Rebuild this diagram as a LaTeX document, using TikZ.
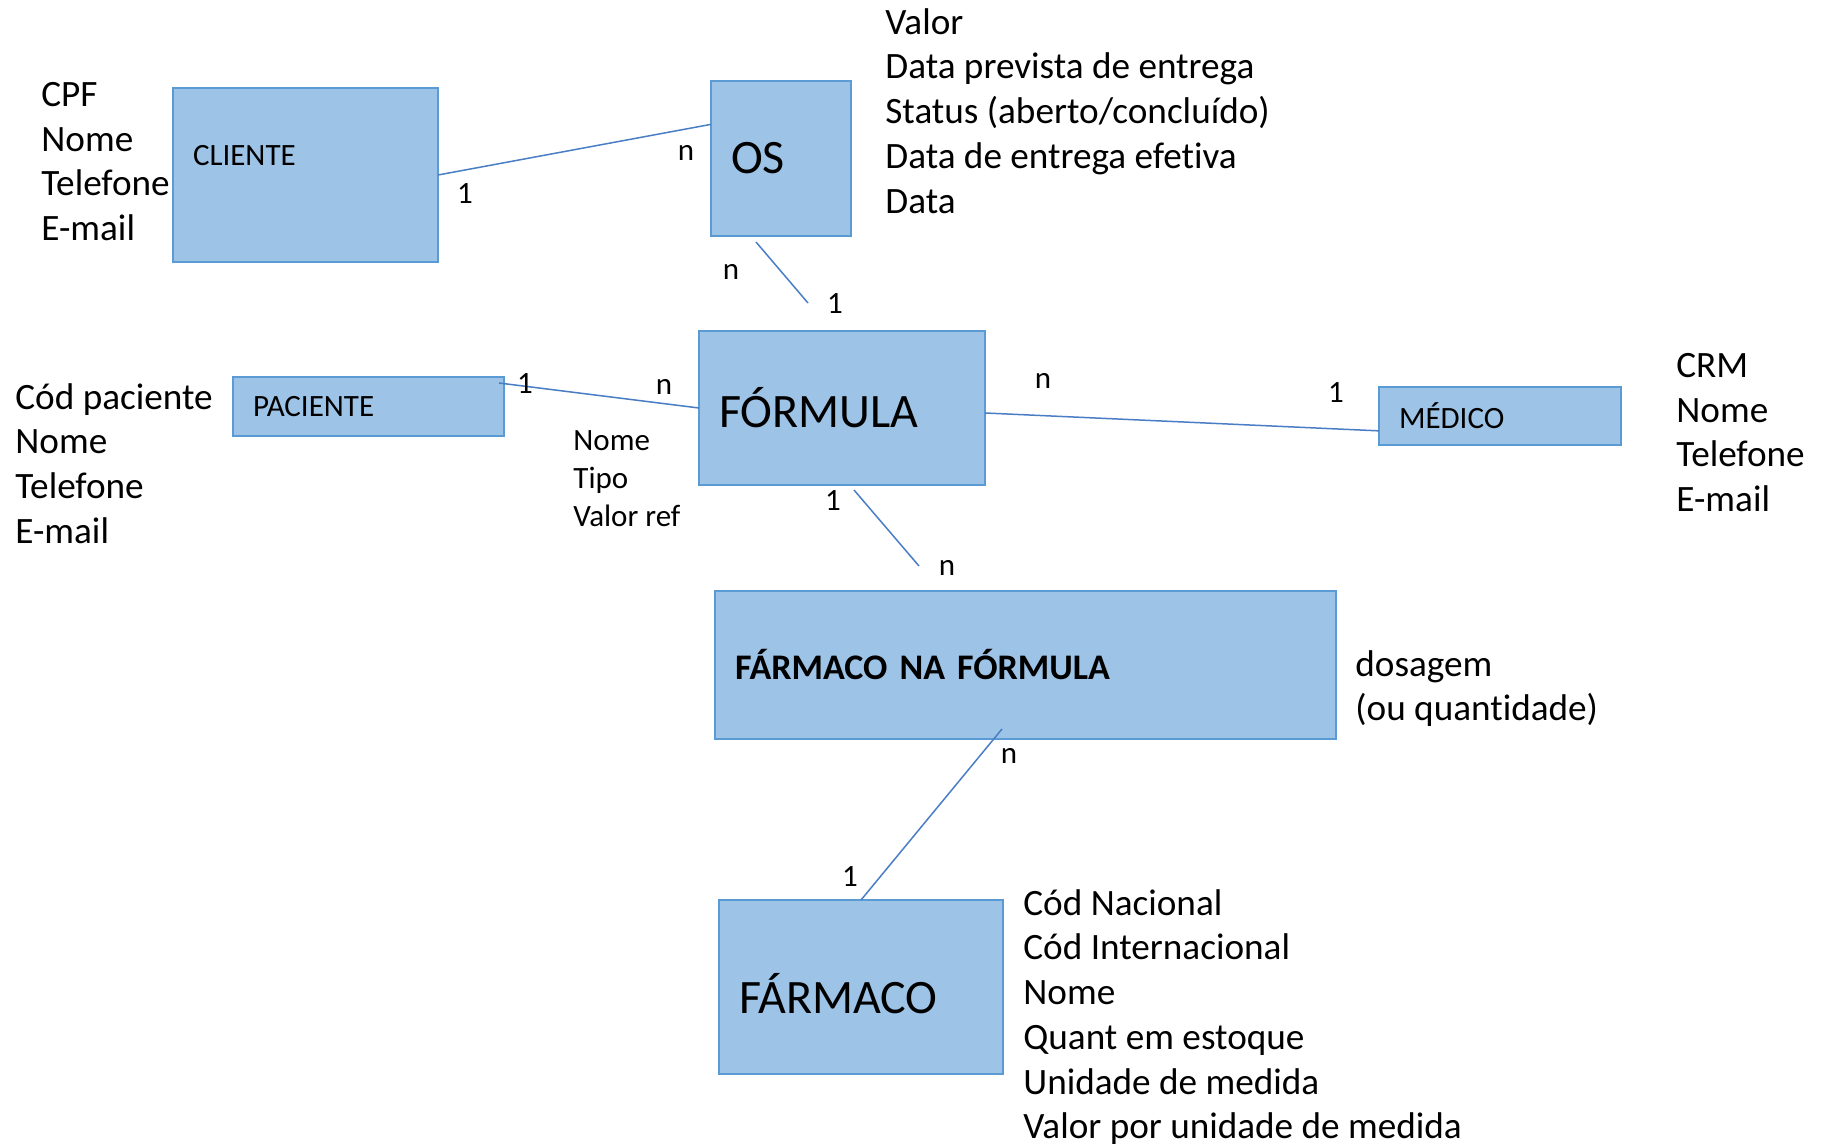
\documentclass[tikz,border=0pt]{standalone}
\usepackage{fontspec}
\setmainfont{Carlito}[Ligatures=CommonOff]
\definecolor{boxfill}{HTML}{9DC3E6}
\definecolor{boxline}{HTML}{5B9BD5}
\definecolor{linkline}{HTML}{4A7EC4}

\begin{document}
\begin{tikzpicture}[x=0.5pt,y=-0.5pt,
  entity node/.style={rectangle,draw=boxline,fill=boxfill,line width=1pt,
    inner xsep=10pt,inner ysep=0pt,outer sep=0pt,align=left},
  small font/.style={font=\fontsize{15.5}{19}\selectfont},
  big font/.style={font=\fontsize{24}{29}\selectfont},
  attr node/.style={anchor=north west,align=left,inner sep=0pt,font=\fontsize{18.6}{22.35}\selectfont},
  card node/.style={inner sep=0pt,font=\fontsize{15.5}{19}\selectfont},
  link/.style={draw=linkline,line width=0.75pt}]

  \useasboundingbox (0,0) rectangle (1821,1146);

  % entidades
  \node[entity node,small font,minimum width=132.5pt,text width=112.5pt,minimum height=87pt,text depth=20pt] (cliente) at (305.5,175) {CLIENTE};
  \node[entity node,big font,minimum width=70pt,text width=50pt,minimum height=77.5pt] (os) at (781,158.5) {OS};
  \node[entity node,big font,minimum width=143pt,text width=123pt,minimum height=77pt] (formula) at (842,408) {FÓRMULA};
  \node[entity node,small font,minimum width=135.5pt,text width=115.5pt,minimum height=29.5pt] (paciente) at (368.5,406.5) {PACIENTE};
  \node[entity node,small font,minimum width=121pt,text width=101pt,minimum height=29pt] (medico) at (1500,416) {MÉDICO};
  \node[entity node,font=\fontsize{18}{22}\selectfont\bfseries,minimum width=310.5pt,text width=290.5pt,minimum height=74pt] (fnf) at (1025.5,665) {FÁRMACO NA FÓRMULA};
  \node[entity node,big font,minimum width=142pt,text width=122pt,minimum height=87pt] (farmaco) at (861,987) {\raisebox{-3.5pt}[\height][\depth]{FÁRMACO}};

  % atributos
  \node[attr node] (cliente attr) at (41,82) {CPF\\Nome\\Telefone\\E-mail};
  \node[attr node] (os attr) at (885,8) {Valor\\Data prevista de entrega\\Status (aberto/concluído)\\Data de entrega efetiva\\Data};
  \node[attr node] (paciente attr) at (15,383) {Cód paciente\\Nome\\Telefone\\E-mail};
  \node[attr node] (medico attr) at (1676,353) {CRM\\Nome\\Telefone\\E-mail};
  \node[attr node,font=\fontsize{15.5}{19}\selectfont] (formula attr) at (573,430) {Nome\\Tipo\\Valor ref};
  \node[attr node] (fnf attr) at (1355,650) {dosagem\\(ou quantidade)};
  \node[attr node] (farmaco attr) at (1023,889) {Cód Nacional\\Cód Internacional\\Nome\\Quant em estoque\\Unidade de medida\\Valor por unidade de medida};

  % pontas livres
  \coordinate (os out) at (756,242);
  \coordinate (formula in) at (808,303);
  \coordinate (paciente out) at (499,383);
  \coordinate (formula out) at (854,490);
  \coordinate (fnf in) at (919,566);
  \coordinate (fnf out) at (1002,729);

  \path[link]
    (cliente.east) edge (os.154)
    (os out) edge (formula in)
    (paciente out) edge (formula.west)
    (formula.-2) edge (medico.187)
    (formula out) edge (fnf in)
    (fnf out) edge (farmaco.north);

  % cardinalidades
  \node[card node] (c1) at (465,194) {1};
  \node[card node] (c2) at (686,153) {n};
  \node[card node] (c3) at (731,272) {n};
  \node[card node] (c4) at (835,304) {1};
  \node[card node] (c5) at (525,384) {1};
  \node[card node] (c6) at (664,387) {n};
  \node[card node] (c7) at (1043,381) {n};
  \node[card node] (c8) at (1336,393) {1};
  \node[card node] (c9) at (833,501) {1};
  \node[card node] (c10) at (947,568) {n};
  \node[card node] (c11) at (1009,756) {n};
  \node[card node] (c12) at (850,877) {1};

\end{tikzpicture}
\end{document}
